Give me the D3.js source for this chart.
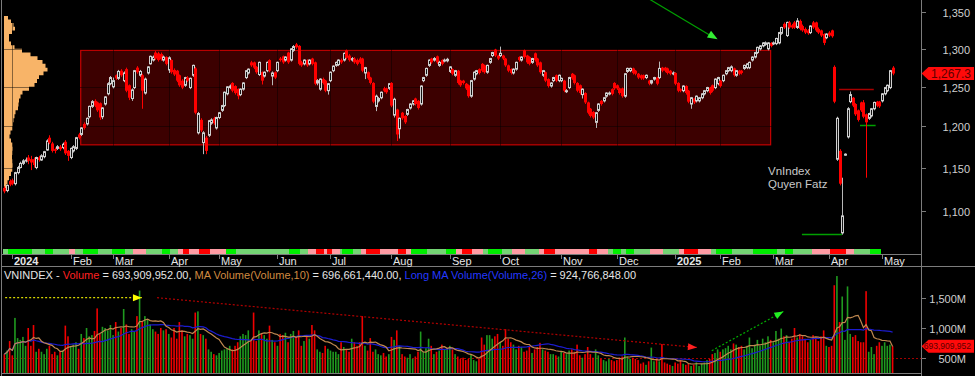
<!DOCTYPE html>
<html><head><meta charset="utf-8">
<script src="https://cdn.jsdelivr.net/npm/d3@7"></script>
<style>
html,body{margin:0;padding:0;background:#000;overflow:hidden;}
svg{display:block;}
text{font-family:"Liberation Sans",Arial,sans-serif;}
</style></head><body>
<svg id="c" width="975" height="376"></svg>
<script>
// ---------------- DATA ----------------
const opens = [
1126,1123,1134,1135,1131,1144,1150,1155,1158,1162,
1160,1160,1150,1162,1159,1163,1171,1186,1179,1172,
1173,1175,1174,1181,1170,1162,1170,1173,1190,1190,
1203,1203,1212,1225,1232,1230,1229,1212,1228,1241,
1254,1250,1265,1261,1271,1258,1273,1252,1235,1249,
1275,1265,1265,1242,1268,1280,1285,1295,1294,1293,
1285,1289,1272,1285,1272,1271,1265,1258,1252,1262,
1249,1265,1274,1192,1208,1180,1186,1189,1204,1210,
1198,1211,1220,1226,1241,1249,1255,1251,1247,1240,
1247,1262,1268,1282,1282,1276,1266,1269,1264,1271,
1285,1264,1269,1271,1287,1290,1285,1295,1285,1298,
1306,1304,1282,1280,1285,1280,1287,1282,1255,1247,
1260,1258,1245,1258,1271,1278,1279,1285,1285,1298,
1291,1285,1287,1285,1287,1287,1268,1269,1262,1255,
1225,1232,1236,1248,1248,1248,1255,1214,1221,1197,
1217,1213,1215,1223,1228,1235,1232,1228,1258,1265,
1278,1287,1285,1290,1278,1285,1284,1284,1270,1273,
1265,1271,1258,1258,1254,1252,1238,1260,1267,1273,
1280,1278,1269,1282,1291,1299,1291,1291,1291,1287,
1278,1273,1268,1273,1289,1285,1298,1291,1289,1282,
1294,1287,1282,1265,1269,1260,1251,1258,1265,1258,
1258,1258,1244,1249,1267,1265,1255,1252,1240,1242,
1230,1222,1218,1205,1220,1232,1232,1238,1241,1247,
1255,1252,1248,1248,1238,1270,1271,1274,1271,1267,
1265,1265,1262,1258,1255,1260,1262,1262,1275,1275,
1274,1271,1267,1268,1255,1247,1245,1251,1245,1228,
1235,1232,1232,1236,1241,1245,1249,1252,1249,1254,
1258,1258,1267,1271,1271,1274,1265,1271,1271,1274,
1275,1275,1285,1289,1295,1300,1304,1306,1300,1308,
1307,1307,1308,1321,1334,1318,1336,1332,1336,1329,
1338,1331,1327,1325,1322,1336,1336,1327,1325,1320,
1315,1322,1325,1276,1160,1170,1075,1165,1187,1231,
1236,1228,1220,1230,1230,1215,1210,1213,1222,1231,
1231,1232,1241,1245,1249,1275];
const closes = [
1122,1129,1130,1131,1144,1150,1155,1158,1159,1158,
1156,1153,1162,1159,1164,1169,1182,1180,1170,1170,
1175,1172,1178,1167,1164,1173,1175,1186,1186,1198,
1198,1210,1225,1231,1226,1220,1211,1223,1237,1254,
1262,1258,1261,1270,1265,1268,1245,1236,1246,1271,
1269,1270,1245,1260,1276,1290,1289,1287,1285,1286,
1289,1280,1288,1269,1266,1258,1252,1249,1262,1258,
1261,1278,1217,1216,1195,1192,1170,1207,1208,1204,
1211,1217,1226,1243,1250,1251,1245,1242,1238,1247,
1255,1271,1273,1278,1275,1269,1282,1258,1269,1282,
1271,1268,1262,1282,1285,1282,1289,1282,1300,1303,
1302,1280,1278,1285,1278,1285,1280,1254,1258,1260,
1255,1245,1254,1269,1277,1282,1285,1282,1294,1288,
1285,1287,1282,1280,1282,1271,1275,1261,1255,1231,
1238,1235,1243,1245,1243,1254,1226,1234,1190,1210,
1210,1205,1221,1228,1232,1228,1223,1251,1262,1274,
1285,1282,1287,1282,1282,1280,1285,1286,1276,1267,
1271,1255,1252,1255,1248,1238,1258,1269,1271,1268,
1271,1269,1278,1287,1295,1291,1287,1294,1287,1278,
1271,1268,1273,1282,1285,1289,1289,1282,1280,1287,
1285,1278,1269,1271,1258,1251,1255,1262,1258,1265,
1261,1245,1245,1262,1261,1255,1245,1242,1247,1230,
1217,1213,1211,1217,1228,1228,1236,1242,1242,1241,
1248,1248,1242,1238,1267,1274,1274,1268,1267,1262,
1261,1261,1265,1254,1258,1262,1254,1274,1271,1271,
1268,1267,1268,1254,1245,1245,1251,1242,1231,1236,
1230,1238,1236,1241,1245,1249,1242,1245,1260,1262,
1251,1265,1271,1275,1276,1265,1271,1267,1268,1278,
1280,1282,1289,1295,1302,1304,1308,1308,1308,1304,
1308,1314,1322,1329,1329,1336,1329,1329,1329,1338,
1327,1325,1322,1321,1331,1329,1325,1322,1318,1308,
1320,1318,1317,1231,1210,1131,1094,1166,1222,1240,
1226,1215,1208,1220,1212,1205,1216,1222,1230,1226,
1225,1241,1249,1252,1271,1267.3];
const highs = [
1128,1130,1136,1137,1145,1152,1157,1160,1162,1165,
1164,1162,1163,1164,1166,1170,1184,1189,1181,1174,
1177,1177,1180,1183,1171,1174,1177,1187,1192,1199,
1205,1211,1226,1233,1234,1231,1230,1224,1238,1256,
1264,1262,1266,1272,1273,1270,1275,1253,1248,1272,
1277,1272,1267,1262,1277,1291,1291,1297,1296,1295,
1291,1290,1290,1286,1274,1272,1266,1260,1263,1264,
1262,1279,1276,1218,1210,1194,1188,1208,1210,1212,
1212,1218,1227,1244,1251,1253,1256,1252,1248,1248,
1256,1272,1274,1284,1283,1277,1283,1270,1270,1283,
1286,1270,1270,1283,1289,1291,1290,1296,1301,1305,
1308,1305,1284,1286,1286,1286,1288,1283,1260,1261,
1262,1259,1255,1270,1278,1283,1286,1287,1295,1299,
1293,1289,1289,1287,1289,1288,1276,1270,1263,1256,
1240,1237,1244,1250,1249,1255,1256,1236,1222,1211,
1218,1214,1222,1229,1233,1236,1233,1252,1263,1275,
1286,1288,1289,1291,1284,1286,1287,1288,1277,1274,
1272,1272,1259,1259,1255,1253,1259,1270,1272,1274,
1281,1279,1279,1288,1296,1300,1292,1303,1292,1288,
1279,1274,1274,1283,1290,1290,1299,1292,1290,1288,
1295,1288,1283,1272,1270,1261,1256,1263,1266,1266,
1262,1259,1247,1263,1268,1266,1256,1253,1248,1243,
1231,1223,1219,1218,1229,1233,1237,1243,1244,1248,
1256,1253,1249,1249,1268,1275,1275,1275,1272,1268,
1266,1266,1266,1259,1259,1263,1263,1283,1276,1276,
1275,1272,1270,1269,1256,1248,1252,1252,1246,1237,
1236,1239,1237,1242,1246,1250,1250,1253,1261,1263,
1259,1266,1272,1276,1278,1275,1272,1272,1272,1279,
1281,1283,1290,1296,1303,1305,1309,1310,1309,1309,
1310,1315,1323,1330,1336,1337,1338,1334,1338,1342,
1340,1333,1329,1327,1332,1338,1337,1329,1326,1321,
1321,1324,1326,1278,1212,1172,1138,1167,1224,1244,
1237,1229,1221,1231,1233,1216,1217,1223,1231,1232,
1232,1242,1250,1253,1272,1277];
const lows = [
1120,1121,1128,1129,1129,1142,1149,1153,1156,1154,
1147,1150,1148,1157,1158,1161,1170,1178,1168,1167,
1171,1170,1172,1165,1158,1160,1168,1171,1184,1188,
1196,1201,1210,1223,1224,1218,1208,1209,1226,1239,
1252,1248,1259,1259,1263,1256,1243,1233,1232,1247,
1267,1263,1222,1240,1266,1279,1283,1285,1283,1284,
1283,1278,1268,1267,1264,1256,1250,1247,1250,1256,
1247,1263,1215,1190,1193,1166,1166,1187,1202,1202,
1196,1209,1218,1224,1239,1247,1243,1240,1234,1238,
1245,1260,1266,1276,1273,1267,1264,1253,1262,1269,
1269,1252,1260,1269,1283,1280,1283,1280,1283,1296,
1300,1278,1276,1278,1276,1278,1278,1252,1252,1245,
1253,1243,1240,1256,1269,1276,1277,1280,1283,1286,
1283,1283,1280,1278,1280,1269,1260,1259,1253,1229,
1219,1230,1234,1243,1241,1246,1224,1211,1182,1185,
1208,1203,1213,1221,1226,1226,1221,1226,1256,1263,
1276,1280,1283,1280,1276,1278,1282,1282,1268,1265,
1263,1253,1250,1253,1246,1236,1236,1258,1265,1266,
1269,1267,1267,1280,1289,1289,1285,1289,1285,1276,
1269,1266,1266,1271,1283,1283,1287,1280,1278,1280,
1283,1276,1267,1263,1256,1249,1249,1256,1256,1256,
1256,1243,1242,1247,1259,1253,1243,1240,1235,1228,
1215,1211,1209,1198,1218,1226,1230,1236,1239,1239,
1246,1246,1240,1236,1236,1268,1269,1266,1265,1260,
1259,1259,1260,1252,1253,1258,1252,1260,1269,1269,
1266,1265,1265,1252,1243,1243,1243,1240,1229,1222,
1228,1230,1230,1234,1239,1243,1240,1243,1247,1252,
1249,1256,1265,1269,1269,1263,1263,1265,1266,1272,
1273,1273,1283,1287,1293,1298,1302,1304,1298,1302,
1305,1305,1306,1319,1327,1316,1327,1327,1327,1327,
1325,1323,1320,1319,1320,1327,1323,1320,1316,1305,
1313,1316,1315,1229,1158,1129,1073,1164,1185,1229,
1224,1213,1206,1218,1210,1138,1208,1211,1220,1224,
1223,1230,1239,1243,1247,1265];
// volume in millions of shares
const volumes = [
560,620,780,540,1170,830,800,850,700,1000,
700,1050,600,650,600,560,650,700,560,600,
540,600,620,1040,860,700,720,760,650,900,
830,1000,860,880,950,1330,900,1020,1000,960,
1050,880,1100,940,1000,1320,1060,900,980,940,
1200,1630,1120,1200,1150,1060,980,940,900,1000,
960,980,900,840,1000,820,1100,960,860,900,
880,820,1260,1280,900,880,820,640,600,560,
540,580,620,640,660,700,640,700,760,860,
900,880,960,800,1260,780,960,900,880,820,
1040,800,760,700,900,880,920,760,900,950,
860,960,700,780,880,820,1050,960,640,600,
580,700,650,620,600,600,560,760,680,640,
600,820,760,700,760,1200,700,620,830,600,
640,560,540,580,520,560,850,800,960,700,
560,520,500,560,480,520,600,940,600,660,
820,700,560,600,620,720,640,660,700,640,
560,520,480,500,460,480,560,460,440,480,
840,720,880,880,820,860,900,760,700,980,
820,760,720,640,700,680,600,620,700,580,
640,680,750,640,620,600,560,560,540,520,
600,580,560,620,640,600,720,540,500,560,
680,560,500,640,540,480,460,440,480,460,
440,460,500,520,840,520,480,500,480,460,
400,420,380,440,670,440,480,440,730,420,
400,380,360,420,400,460,400,380,400,360,
380,420,360,400,420,460,480,560,580,640,
600,640,660,700,640,740,720,680,700,640,
700,840,660,720,800,700,820,760,860,800,
760,950,820,990,860,880,760,820,1000,840,
900,860,820,760,800,880,840,780,860,960,
700,680,700,1720,1875,1100,1530,800,1700,900,
850,880,780,760,760,1620,600,680,560,700,
760,700,760,700,720,694];

// month axis: label and index of first trading day
const monthLabels = ["2024","Feb","Mar","Apr","May","Jun","Jul","Aug","Sep","Oct","Nov","Dec","2025","Feb","Mar","Apr","May"];
const monthIndex  = [3,25,41,62,81,103,123,146,168,187,210,231,253,270,290,311,331];
const priceTicks = [1100,1150,1200,1250,1300,1350];
const volumeTicks = [500,1000,1500];

// volume-at-price profile (left)
const profilePrice = [1345,1340,1335,1330,1325,1320,1315,1310,1305,1300,1295,1290,1285,1280,1275,1270,1265,1260,1255,1250,1245,1240,1235,1230,1225,1220,1215,1210,1205,1200,1195,1190,1185,1180,1175,1170,1165,1160,1155,1150,1145,1140,1135,1130,1125,1120];
const profileVolume = [2,6,8,11,11,5,5,5,9,12,24,29,38,39,44,43,36,34,32,29,21,16,17,13,16,12,11,10,9,9,8,5,6,8,9,9,8,8,9,9,8,6,4,3,1,0];

// trend ribbon (run lengths). L=light green, G=green, P=pink, R=red
const ribbonState  = ["L","G","L","G","L","P","L","G","L","G","L","P","L","G","L","P","R","P","R","P","G","L","G","L","P","R","P","R","P","L","G","L","P","R","P","R","P","G","L","G","P","R","P","L","G","L","P","L","P","R","P","R","P","L","G","L","G","L","P","L","P","R","P","L","G","L","G","L","G","L","P","R","P","L","G"];
const ribbonLength = [2,9,5,3,6,2,3,6,5,5,3,5,6,3,3,2,2,4,4,6,4,20,4,3,3,3,1,2,3,1,4,3,2,5,7,3,2,6,7,4,2,4,4,2,5,4,5,5,2,4,13,3,4,2,3,2,3,6,5,6,2,5,5,2,6,8,9,3,3,7,7,6,3,6,4];

// annotations (index / price coordinates)
const boxIdx = [28.8, 289.0];
const boxPrice = [1298, 1177.3];
const resistIdx = [314.8, 327.9], resistPrice = 1247.5;
const supportIdx = [322.7, 328.6], supportPrice = 1201.4;
const bottomIdx = [300.8, 315.9], bottomPrice = 1073.2;
const trendArrowIdx = [243.5, 269.0], trendArrowPrice = [1368, 1313];
const volYellowIdx = [0.3, 51.9], volYellowVal = [1510, 1510];
const volRedIdx = [57.6, 261.2], volRedVal = [1510, 672];
const volGreenIdx = [266.8, 293.8], volGreenVal = [618, 1278];
const volLevel = 500;
const lastPrice = 1267.3, lastVolume = 693.909952;
const noteLines = ["VnIndex", "Quyen Fatz"];
const noteIdx = 288, notePrice = [1146, 1131];
const titleParts = [
  ["VNINDEX - ", "w"], ["Volume", "r"], [" = 693,909,952.00, ", "w"],
  ["MA Volume(Volume,10)", "o"], [" = 696,661,440.00, ", "w"],
  ["Long MA Volume(Volume,26)", "b"], [" = 924,766,848.00", "w"]];

// ---------------- DRAW ----------------
const N = closes.length;
const svg = d3.select("#c");
const plotR = 921.5;
const x = d3.scaleLinear().domain([0, N - 1]).range([4.35, 892.6]);
const y = d3.scaleLog().domain([1100, 1350]).range([210.6, 12.3]);
const vy = d3.scaleLinear().domain([0, 2000]).range([387.4, 268.6]);
const pw = d3.scaleLinear().domain([0, 44]).range([0, 44]);

svg.append("rect").attr("width", 975).attr("height", 376).attr("fill", "#000");
const defs = svg.append("defs");
defs.append("clipPath").attr("id", "cp").append("rect").attr("x", 2).attr("y", 0).attr("width", plotR - 2).attr("height", 247);
defs.append("clipPath").attr("id", "cv").append("rect").attr("x", 2).attr("y", 267).attr("width", plotR - 2).attr("height", 106);

const gp = svg.append("g").attr("clip-path", "url(#cp)");

// volume profile
const prof = profilePrice.map((p, i) => ({p, v: profileVolume[i]}));
gp.append("path").datum(prof)
  .attr("d", d3.area().y(d => y(d.p)).x0(4).x1(d => 4 + pw(d.v)).curve(d3.curveStep))
  .attr("fill", "#f8b468");

// consolidation box
gp.append("rect")
  .attr("x", x(boxIdx[0])).attr("y", y(boxPrice[0]))
  .attr("width", x(boxIdx[1]) - x(boxIdx[0])).attr("height", y(boxPrice[1]) - y(boxPrice[0]))
  .attr("fill", "#3c0000").attr("stroke", "#c40000").attr("stroke-width", 1.2);

// grid lines (dark, only visible over filled areas)
priceTicks.forEach(p => gp.append("line").attr("x1", 0).attr("x2", plotR).attr("y1", Math.round(y(p)) + 0.5).attr("y2", Math.round(y(p)) + 0.5)
  .attr("stroke", "rgba(0,0,0,0.45)"));
monthIndex.forEach(i => gp.append("line").attr("x1", Math.round(x(i)) + 0.5).attr("x2", Math.round(x(i)) + 0.5).attr("y1", 0).attr("y2", 247)
  .attr("stroke", "rgba(0,0,0,0.45)"));

// level lines
const lvl = (ix, p, col) => gp.append("line").attr("x1", x(ix[0])).attr("x2", x(ix[1]))
  .attr("y1", Math.round(y(p)) + 0.5).attr("y2", Math.round(y(p)) + 0.5).attr("stroke", col).attr("stroke-width", 1.3);
lvl(resistIdx, resistPrice, "#a80000");
lvl(supportIdx, supportPrice, "#00a000");
lvl(bottomIdx, bottomPrice, "#00a000");

// candles
const candles = d3.range(N).map(i => ({i, o: opens[i], c: closes[i], h: highs[i], l: lows[i], up: closes[i] >= opens[i]}));
const cg = gp.append("g");
cg.selectAll("line.w").data(candles).join("line")
  .attr("x1", d => Math.round(x(d.i)) + 0.5).attr("x2", d => Math.round(x(d.i)) + 0.5)
  .attr("y1", d => y(d.h)).attr("y2", d => y(d.l))
  .attr("stroke", d => d.up ? "#b8b8b8" : "#ff0000").attr("stroke-width", 1);
cg.selectAll("rect.b").data(candles).join("rect")
  .attr("x", d => d.up ? Math.round(x(d.i)) - 0.5 : Math.round(x(d.i)) - 1)
  .attr("width", d => d.up ? 2 : 3)
  .attr("y", d => y(Math.max(d.o, d.c)))
  .attr("height", d => Math.max(1, y(Math.min(d.o, d.c)) - y(Math.max(d.o, d.c))))
  .attr("fill", d => d.up ? "#141414" : "#ff0000")
  .attr("stroke", d => d.up ? "#d0d0d0" : "none").attr("stroke-width", 1);

// arrow helper
function head(x1, y1, x2, y2, len, wid) {
  const a = Math.atan2(y2 - y1, x2 - x1), c = Math.cos(a), s = Math.sin(a);
  const bx = x2 - len * c, by = y2 - len * s;
  return [[x2, y2], [bx - wid * s, by + wid * c], [bx + wid * s, by - wid * c]].map(p => p.join(",")).join(" ");
}
{
  const x1 = x(trendArrowIdx[0]), y1 = y(trendArrowPrice[0]), x2 = x(trendArrowIdx[1]), y2 = y(trendArrowPrice[1]);
  gp.append("line").attr("x1", x1).attr("y1", y1).attr("x2", x2 - 6).attr("y2", y2 - 3).attr("stroke", "#00a000").attr("stroke-width", 1.2);
  gp.append("polygon").attr("points", head(x1, y1, x2, y2, 10, 4)).attr("fill", "#33ee33");
}

// note text
noteLines.forEach((t, k) => svg.append("text").attr("x", x(noteIdx)).attr("y", y(notePrice[k]) + 4)
  .attr("font-size", 11.5).attr("fill", "#c8c8c8").text(t));

// ribbon
const ribbonColors = {L: "#74d474", G: "#00ee00", P: "#ff9ca4", R: "#ff0000"};
const ribbon = [];
let k0 = 0;
ribbonState.forEach((s, k) => { ribbon.push({s, a: k0, b: k0 + ribbonLength[k]}); k0 += ribbonLength[k]; });
const step = x(1) - x(0);
svg.append("g").selectAll("rect").data(ribbon).join("rect")
  .attr("x", d => x(d.a) - step / 2).attr("width", d => (d.b - d.a) * step)
  .attr("y", 249).attr("height", 4.5)
  .attr("fill", d => ribbonColors[d.s]).attr("shape-rendering", "crispEdges");

// frame lines
const frame = svg.append("g").attr("stroke", "#7c7c7c").attr("shape-rendering", "crispEdges");
frame.append("line").attr("x1", 1.5).attr("x2", 1.5).attr("y1", 0).attr("y2", 376);
frame.append("line").attr("x1", plotR).attr("x2", plotR).attr("y1", 0).attr("y2", 376);
frame.append("line").attr("x1", 1).attr("x2", plotR).attr("y1", 254.5).attr("y2", 254.5);
frame.append("line").attr("x1", 1).attr("x2", 975).attr("y1", 266.5).attr("y2", 266.5);
frame.append("line").attr("x1", 1).attr("x2", plotR).attr("y1", 373.5).attr("y2", 373.5);

// month axis
monthIndex.forEach((i, k) => {
  const xx = Math.round(x(i)) + 0.5;
  frame.append("line").attr("x1", xx).attr("x2", xx).attr("y1", 254.5).attr("y2", 259);
  svg.append("text").attr("x", xx + 1.5).attr("y", 264.5).attr("font-size", 11)
    .attr("font-weight", /^\d{4}$/.test(monthLabels[k]) ? "bold" : "normal")
    .attr("fill", "#e6e6e6").text(monthLabels[k]);
});

// price axis
priceTicks.forEach(p => {
  const yy = Math.round(y(p)) + 0.5;
  frame.append("line").attr("x1", plotR).attr("x2", plotR + 4).attr("y1", yy).attr("y2", yy);
  svg.append("text").attr("x", 970).attr("y", yy + 4).attr("text-anchor", "end").attr("font-size", 11)
    .attr("fill", "#cfcfcf").text(d3.format(",")(p));
});
function valueBox(yy, label, fs) {
  svg.append("polygon").attr("points", `${plotR},${yy} ${plotR + 7},${yy - 6.5} 974,${yy - 6.5} 974,${yy + 6.5} ${plotR + 7},${yy + 6.5}`)
    .attr("fill", "#ff0a0a");
  svg.append("text").attr("x", 971).attr("y", yy + fs * 0.36)
    .attr("text-anchor", "end").attr("font-size", fs)
    .attr("fill", "#5c0000").text(label);
}
valueBox(y(lastPrice), d3.format(",.1f")(lastPrice), 12);

// ---------- volume panel ----------
svg.append("text").attr("x", 4).attr("y", 278.5).attr("font-size", 11)
  .selectAll("tspan").data(titleParts).join("tspan")
  .attr("fill", d => ({w: "#e6e6e6", r: "#ff2020", o: "#d08a40", b: "#2438ff"})[d[1]])
  .text(d => d[0]);

const gv = svg.append("g").attr("clip-path", "url(#cv)");
gv.append("line").attr("x1", 0).attr("x2", plotR).attr("y1", Math.round(vy(volLevel)) + 0.5).attr("y2", Math.round(vy(volLevel)) + 0.5)
  .attr("stroke", "#a00000").attr("stroke-dasharray", "2,2");
gv.selectAll("rect.v").data(candles).join("rect")
  .attr("x", d => x(d.i) - 0.8).attr("width", 1.6)
  .attr("y", d => vy(volumes[d.i])).attr("height", d => 387.4 - vy(volumes[d.i]))
  .attr("fill", d => d.up ? "#1f9a1f" : "#f00000");

function sma(arr, n) { return arr.map((v, i) => d3.mean(arr.slice(Math.max(0, i - n + 1), i + 1))); }
const ma10 = sma(volumes, 10), ma26 = sma(volumes, 26);
const ln = d3.line().x((d, i) => x(i)).y(d => vy(d));
gv.append("path").attr("d", ln(ma26)).attr("fill", "none").attr("stroke", "#1c1cd0").attr("stroke-width", 1.2);
gv.append("path").attr("d", ln(ma10)).attr("fill", "none").attr("stroke", "#c08850").attr("stroke-width", 1.2);

function dotted(ix, vv, col, hcol) {
  const x1 = x(ix[0]), y1 = vy(vv[0]), x2 = x(ix[1]), y2 = vy(vv[1]);
  gv.append("line").attr("x1", x1).attr("y1", y1).attr("x2", x2).attr("y2", y2)
    .attr("stroke", col).attr("stroke-width", 1.2).attr("stroke-dasharray", "2,2");
  gv.append("polygon").attr("points", head(x1, y1, x2, y2, 9, 3.5)).attr("fill", hcol);
}
dotted(volYellowIdx, volYellowVal, "#d8d800", "#ffff00");
dotted(volRedIdx, volRedVal, "#b00000", "#ff2020");
dotted(volGreenIdx, volGreenVal, "#00b000", "#22ee22");

volumeTicks.forEach(v => {
  const yy = Math.round(vy(v)) + 0.5;
  frame.append("line").attr("x1", plotR).attr("x2", plotR + 4).attr("y1", yy).attr("y2", yy);
  svg.append("text").attr("x", 966).attr("y", yy + 4).attr("text-anchor", "end").attr("font-size", 11)
    .attr("fill", "#cfcfcf").text(d3.format(",")(v) + "M");
});
valueBox(vy(lastVolume), d3.format(",.0f")(lastVolume * 1e6), 8.5);
</script>
</body></html>
